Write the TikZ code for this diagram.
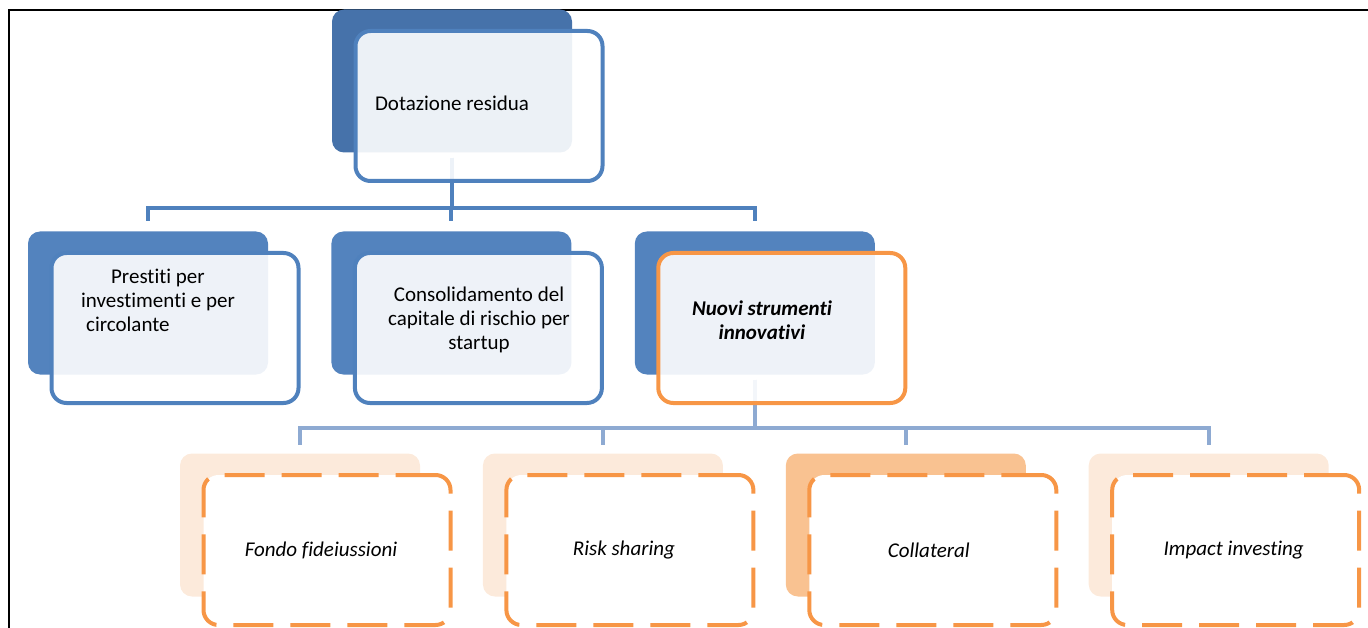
\documentclass[tikz,border=0pt]{standalone}
\usepackage{fontspec}
\setmainfont[Ligatures=NoCommon]{Carlito}
\usetikzlibrary{positioning}

\definecolor{topblue}{HTML}{4672AA}
\definecolor{midblue}{HTML}{5383BE}
\definecolor{lineblue}{HTML}{4F81BD}
\definecolor{paleblue}{HTML}{8EAAD2}
\definecolor{accorange}{HTML}{F79646}
\definecolor{peach}{HTML}{FCEADB}
\definecolor{deeppeach}{HTML}{F9C291}

\tikzset{
  back/.style={rectangle, rounded corners=12pt, minimum width=240pt, minimum height=143pt, inner sep=0pt},
  front/.style={rectangle, rounded corners=15pt, minimum width=247pt, minimum height=150pt, inner sep=0pt, line width=4pt, fill=white, fill opacity=0.9},
  dashbox/.style={front, fill opacity=1, draw=accorange, dash pattern=on 40pt off 17pt},
  lbl/.style={font=\fontsize{21}{24}\selectfont, inner sep=0pt},
  link/.style={line width=4pt, draw=lineblue},
}

\begin{document}
\begin{tikzpicture}[x=1pt,y=-1pt]
        \useasboundingbox (0,0) rectangle (1368,628);
        \draw[line width=2pt] (9,628) -- (9,10) -- (1368,10);

        % back boxes
        \node (rootb) [back, fill=topblue] at (452,81) {};
        \node (prb) [back, fill=midblue] at (148,303) {};
        \node (csb) [back, fill=midblue, right=63pt of prb] {};
        \node (nsb) [back, fill=midblue, right=63pt of csb] {};
        \node (ffb) [back, fill=peach] at (300,525) {};
        \node (rsb) [back, fill=peach, right=62.5pt of ffb] {};
        \node (clb) [back, fill=deeppeach, right=62.5pt of rsb] {};
        \node (iib) [back, fill=peach, right=62.5pt of clb] {};

        % connectors
        \foreach \c in {prb,csb,nsb}
            \draw[link, shorten <=5pt, shorten >=10pt] (rootb.south) -- ++(0,55) -| (\c.north);
        \foreach \c in {ffb,rsb,clb,iib}
            \draw[link, draw=paleblue, shorten <=5pt, shorten >=8pt] (nsb.south) -- ++(0,53) -| (\c.north);

        % front boxes
        \node (root) [front, draw=lineblue] at ([shift={(27,25)}]rootb) {};
        \node (pr) [front, draw=lineblue] at ([shift={(27,25)}]prb) {};
        \node (cs) [front, draw=lineblue] at ([shift={(27,25)}]csb) {};
        \node (ns) [front, draw=accorange] at ([shift={(27,25)}]nsb) {};
        \node (ff) [dashbox] at ([shift={(27,25)}]ffb) {};
        \node (rs) [dashbox] at ([shift={(27,25)}]rsb) {};
        \node (cl) [dashbox] at ([shift={(27,25)}]clb) {};
        \node (ii) [dashbox] at ([shift={(27,25)}]iib) {};

        % texts
        \node (rootlbl) [lbl] at (452,103) {Dotazione residua};
        \node (prlbl) [lbl, align=left] at (158,300) {\hspace*{30pt}Prestiti per\\investimenti e per\\\hspace*{5pt}circolante};
        \node (cslbl) [lbl, align=center] at (479,320) {Consolidamento del\\capitale di rischio per\\startup};
        \node (nslbl) [lbl, align=center, font=\fontsize{21}{24}\selectfont\bfseries\itshape] at (762,320) {Nuovi strumenti\\innovativi};
        \node (fflbl) [lbl, font=\fontsize{21}{24}\selectfont\itshape] at ([xshift=-6pt]ff) {Fondo fideiussioni};
        \node (rslbl) [lbl, font=\fontsize{21}{24}\selectfont\itshape] at ([xshift=-6pt]rs) {Risk sharing};
        \node (cllbl) [lbl, font=\fontsize{21}{24}\selectfont\itshape] at ([xshift=-4pt]cl) {Collateral};
        \node (iilbl) [lbl, font=\fontsize{21}{24}\selectfont\itshape] at ([xshift=-2pt]ii) {Impact investing};
\end{tikzpicture}
\end{document}
